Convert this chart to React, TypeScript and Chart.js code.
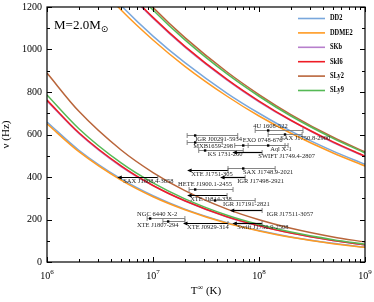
import React, { useEffect, useRef } from "react";
import { Chart, registerables } from "chart.js";
Chart.register(...registerables);

// ---------- data ----------
const models = ["DD2", "DDME2", "SKb", "SkI6", "SLy2", "SLy9"];
const modelColors = ["#79a7dc", "#ff9a22", "#b77fcc", "#ee1c25", "#b9653a", "#55b955"];

const tGrid = [1e6, 2e6, 5e6, 1e7, 2e7, 5e7, 1e8, 2e8, 5e8, 1e9];

// lower window (shear viscosity branch)
const dd2Low = [659, 526, 391, 312, 249, 185, 148, 118, 88, 70];
const ddme2Low = [650, 519, 385, 307, 246, 182, 146, 116, 86, 69];
const skbLow = [758, 605, 449, 359, 287, 212, 170, 136, 101, 80];
const ski6Low = [762, 608, 452, 360, 288, 213, 171, 136, 101, 81];
const sly2Low = [889, 709, 527, 421, 336, 249, 199, 159, 118, 94];
const sly9Low = [786, 627, 466, 372, 297, 220, 176, 141, 105, 83];

// upper window (boundary layer branch)
const dd2High = [1617, 1426, 1207, 1063, 938, 794, 700, 616, 522, 460];
const ddme2High = [1589, 1401, 1186, 1045, 921, 780, 687, 606, 513, 452];
const skbHigh = [1744, 1537, 1301, 1147, 1011, 856, 754, 665, 562, 496];
const ski6High = [1751, 1543, 1306, 1151, 1015, 859, 757, 667, 565, 498];
const sly2High = [1821, 1605, 1359, 1198, 1056, 894, 788, 694, 587, 518];
const sly9High = [1804, 1590, 1346, 1186, 1045, 885, 780, 687, 582, 513];

const lowCurves = [dd2Low, ddme2Low, skbLow, ski6Low, sly2Low, sly9Low];
const highCurves = [dd2High, ddme2High, skbHigh, ski6High, sly2High, sly9High];

// LMXB sources
const srcNames = [
  "4U 1608-522", "SAX J1750.8-2900", "IGR J00291-5934", "MXB1659-298", "EXO 0748-676",
  "Aql X-1", "KS 1731-260", "SWIFT J1749.4-2807", "SAX J1748.9-2021", "XTE J1751-305",
  "IGR J17498-2921", "SAX J1808.4-3658", "HETE J1900.1-2455", "XTE J1814-338", "IGR J17191-2821",
  "IGR J17511-3057", "NGC 6440 X-2", "XTE J1807-294", "XTE J0929-314", "Swift J1756.9-2508",
];
const srcFreq = [620, 601, 599, 567, 552, 550, 526, 518, 442, 435, 401, 401, 345, 314, 294, 245, 205, 191, 185, 182];
const srcT = [1.22e8, 1.76e8, 2.5e7, 2.5e7, 7.1e7, 1.22e8, 3.1e7, 1.07e8, 7.1e7, 5.1e7, 7.4e7, 1.11e7, 2.5e7, 5.0e7, 3.85e7, 1.07e8, 9.4e6, 1.39e7, 5.1e7, 1.07e8];
const srcTLo = [9.2e7, 1.22e8, 2.1e7, 2.1e7, 5.9e7, 7.9e7, 2.7e7, 5.6e7, 5.1e7, 2.1e7, 4.3e7, 4.6e6, 2.19e7, 2.1e7, 3.45e7, 5.3e7, 8.8e6, 1.24e7, 1.92e7, 5.6e7];
const srcTHi = [2.6e8, 2.55e8, 6.3e7, 4.5e7, 1.76e8, 1.88e8, 7.1e7, 1.07e8, 1.42e8, 5.1e7, 7.4e7, 1.11e7, 5.69e7, 5.0e7, 9.2e7, 1.07e8, 2.0e7, 2.0e7, 5.1e7, 1.07e8];
const srcUpper = [false, false, false, false, false, false, false, true, false, true, true, true, false, true, false, true, false, false, true, true];

// label layout (px offsets from left end of bar / arrow tip)
const labelDx = [-2, 12, 8, 6, 8, 22, 9, 26, 15, 4, 17, 6, -11, 3, 13, 37, -10, -26, 4, 5];
const labelDy = [-4, 4, 4, 4, -5, 4, 4, 4, 4, 4, 4, 4, -5, 4, 4, 4, -4, 4, 4, 4];

const yMajor = [0, 200, 400, 600, 800, 1000, 1200];
const yMinor = [100, 300, 500, 700, 900, 1100];
const xMajor = [1e6, 1e7, 1e8, 1e9];
const xMajorExp = ["6", "7", "8", "9"];
const xMinorMult = [2, 3, 4, 5, 6, 7, 8, 9];

const SERIF = "'Liberation Serif', 'DejaVu Serif', serif";

const overlay = {
  id: "overlay",
  afterDatasetsDraw(chart: any) {
    const { ctx, chartArea: a, scales } = chart;
    const xs = scales.x;
    const ys = scales.y;
    ctx.save();

    // ---- LMXB sources ----
    for (let i = 0; i < srcNames.length; i++) {
      const y = Math.round(ys.getPixelForValue(srcFreq[i])) + 0.5;
      const xlo = xs.getPixelForValue(srcTLo[i]);
      const xhi = xs.getPixelForValue(srcTHi[i]);
      const xc = xs.getPixelForValue(srcT[i]);
      if (srcUpper[i]) {
        ctx.strokeStyle = "#000";
        ctx.lineWidth = 1.2;
        ctx.beginPath();
        ctx.moveTo(xlo + 3, y);
        ctx.lineTo(xhi, y);
        ctx.stroke();
        ctx.fillStyle = "#000";
        ctx.beginPath();
        ctx.moveTo(xlo, y);
        ctx.lineTo(xlo + 4.5, y - 2);
        ctx.lineTo(xlo + 4.5, y + 2);
        ctx.closePath();
        ctx.fill();
        ctx.strokeStyle = "#666";
        ctx.lineWidth = 0.8;
        ctx.beginPath();
        ctx.moveTo(xhi, y - 2.5);
        ctx.lineTo(xhi, y + 2.5);
        ctx.stroke();
      } else {
        ctx.strokeStyle = "#777";
        ctx.lineWidth = 0.9;
        ctx.beginPath();
        ctx.moveTo(xlo, y);
        ctx.lineTo(xhi, y);
        ctx.moveTo(xlo, y - 2.5);
        ctx.lineTo(xlo, y + 2.5);
        ctx.moveTo(xhi, y - 2.5);
        ctx.lineTo(xhi, y + 2.5);
        ctx.stroke();
        ctx.fillStyle = "#000";
        ctx.fillRect(xc - 1.2, y - 1.2, 2.4, 2.4);
      }
      ctx.fillStyle = "#222";
      ctx.font = `6.5px ${SERIF}`;
      ctx.textAlign = "left";
      ctx.textBaseline = "middle";
      ctx.fillText(srcNames[i], xlo + labelDx[i], y + labelDy[i]);
    }

    // ---- frame ----
    ctx.strokeStyle = "#000";
    ctx.lineWidth = 1.2;
    ctx.strokeRect(a.left, a.top, a.right - a.left, a.bottom - a.top);

    // ---- ticks ----
    ctx.lineWidth = 1;
    ctx.beginPath();
    for (const v of yMajor) {
      const y = Math.round(ys.getPixelForValue(v)) + 0.5;
      ctx.moveTo(a.left, y); ctx.lineTo(a.left + 5, y);
      ctx.moveTo(a.right, y); ctx.lineTo(a.right - 5, y);
    }
    for (const v of yMinor) {
      const y = Math.round(ys.getPixelForValue(v)) + 0.5;
      ctx.moveTo(a.left, y); ctx.lineTo(a.left + 3, y);
      ctx.moveTo(a.right, y); ctx.lineTo(a.right - 3, y);
    }
    for (const v of xMajor) {
      const x = Math.round(xs.getPixelForValue(v)) + 0.5;
      ctx.moveTo(x, a.bottom); ctx.lineTo(x, a.bottom - 5);
      ctx.moveTo(x, a.top); ctx.lineTo(x, a.top + 5);
    }
    for (let d = 0; d < xMajor.length - 1; d++) {
      for (const m of xMinorMult) {
        const x = Math.round(xs.getPixelForValue(xMajor[d] * m)) + 0.5;
        ctx.moveTo(x, a.bottom); ctx.lineTo(x, a.bottom - 3);
        ctx.moveTo(x, a.top); ctx.lineTo(x, a.top + 3);
      }
    }
    ctx.stroke();

    // ---- tick labels ----
    ctx.fillStyle = "#000";
    ctx.font = `10px ${SERIF}`;
    ctx.textAlign = "right";
    ctx.textBaseline = "middle";
    for (const v of yMajor) {
      ctx.fillText(String(v), a.left - 5, ys.getPixelForValue(v));
    }
    for (let i = 0; i < xMajor.length; i++) {
      const x = xs.getPixelForValue(xMajor[i]);
      ctx.font = `10px ${SERIF}`;
      const w1 = ctx.measureText("10").width;
      ctx.font = `7px ${SERIF}`;
      const w2 = ctx.measureText(xMajorExp[i]).width;
      const x0 = x - (w1 + w2) / 2;
      ctx.textAlign = "left";
      ctx.textBaseline = "alphabetic";
      ctx.font = `10px ${SERIF}`;
      ctx.fillText("10", x0, a.bottom + 17);
      ctx.font = `7px ${SERIF}`;
      ctx.fillText(xMajorExp[i], x0 + w1, a.bottom + 12);
    }

    // ---- axis titles ----
    ctx.save();
    ctx.translate(6, (a.top + a.bottom) / 2);
    ctx.rotate(-Math.PI / 2);
    ctx.font = `11px ${SERIF}`;
    ctx.textAlign = "center";
    ctx.textBaseline = "middle";
    ctx.fillText("\u03bd (Hz)", 0, 0);
    ctx.restore();

    {
      ctx.textAlign = "left";
      ctx.textBaseline = "alphabetic";
      ctx.font = `11px ${SERIF}`;
      const wT = ctx.measureText("T").width;
      const wK = ctx.measureText(" (K)").width;
      ctx.font = `8px ${SERIF}`;
      const wI = ctx.measureText("\u221e").width;
      const cx = (a.left + a.right) / 2;
      const x0 = cx - (wT + wI + wK) / 2;
      const yb = a.bottom + 32;
      ctx.font = `11px ${SERIF}`;
      ctx.fillText("T", x0, yb);
      ctx.font = `8px ${SERIF}`;
      ctx.fillText("\u221e", x0 + wT, yb - 4);
      ctx.font = `11px ${SERIF}`;
      ctx.fillText(" (K)", x0 + wT + wI, yb);
    }

    // ---- mass annotation ----
    ctx.font = `13px ${SERIF}`;
    ctx.textAlign = "left";
    ctx.textBaseline = "alphabetic";
    const mText = "M=2.0M";
    ctx.fillText(mText, a.left + 7, a.top + 22);
    const wm = ctx.measureText(mText).width;
    ctx.font = `9px 'DejaVu Sans', sans-serif`;
    ctx.fillText("\u2299", a.left + 7 + wm, a.top + 25);

    // ---- legend ----
    for (let i = 0; i < models.length; i++) {
      const y = a.top + 11.5 + i * 14.4;
      ctx.strokeStyle = modelColors[i];
      ctx.lineWidth = 1.6;
      ctx.beginPath();
      ctx.moveTo(298, y);
      ctx.lineTo(325, y);
      ctx.stroke();
      ctx.save();
      ctx.translate(330, y);
      ctx.scale(0.85, 1);
      ctx.fillStyle = "#000";
      ctx.font = `bold 7.5px ${SERIF}`;
      ctx.textBaseline = "middle";
      ctx.fillText(models[i], 0, 0);
      ctx.restore();
    }
    ctx.restore();
  },
};

export default function App() {
  const ref = useRef<HTMLCanvasElement>(null);
  useEffect(() => {
    const datasets: any[] = [];
    for (let m = models.length - 1; m >= 0; m--) {
      for (const curves of [lowCurves, highCurves]) {
        datasets.push({
          label: models[m],
          data: tGrid.map((t, i) => ({ x: t, y: curves[m][i] })),
          borderColor: modelColors[m],
          backgroundColor: modelColors[m],
          borderWidth: 1.5,
          pointRadius: 0,
          fill: false,
          cubicInterpolationMode: "monotone",
        });
      }
    }
    const chart = new Chart(ref.current as HTMLCanvasElement, {
      type: "line",
      data: { datasets },
      options: {
        responsive: false,
        animation: false,
        devicePixelRatio: 1,
        layout: { padding: { left: 47, top: 7, right: 9, bottom: 40 } },
        scales: {
          x: { type: "logarithmic", min: 1e6, max: 1e9, display: false },
          y: { type: "linear", min: 0, max: 1200, display: false },
        },
        plugins: { legend: { display: false }, tooltip: { enabled: false } },
        events: [],
      },
      plugins: [overlay],
    } as any);
    return () => chart.destroy();
  }, []);
  return (
    <div style={{ position: "fixed", left: 0, top: 0, width: 374, height: 302, background: "#fff" }}>
      <canvas ref={ref} width={374} height={302} style={{ width: 374, height: 302, display: "block" }} />
    </div>
  );
}
